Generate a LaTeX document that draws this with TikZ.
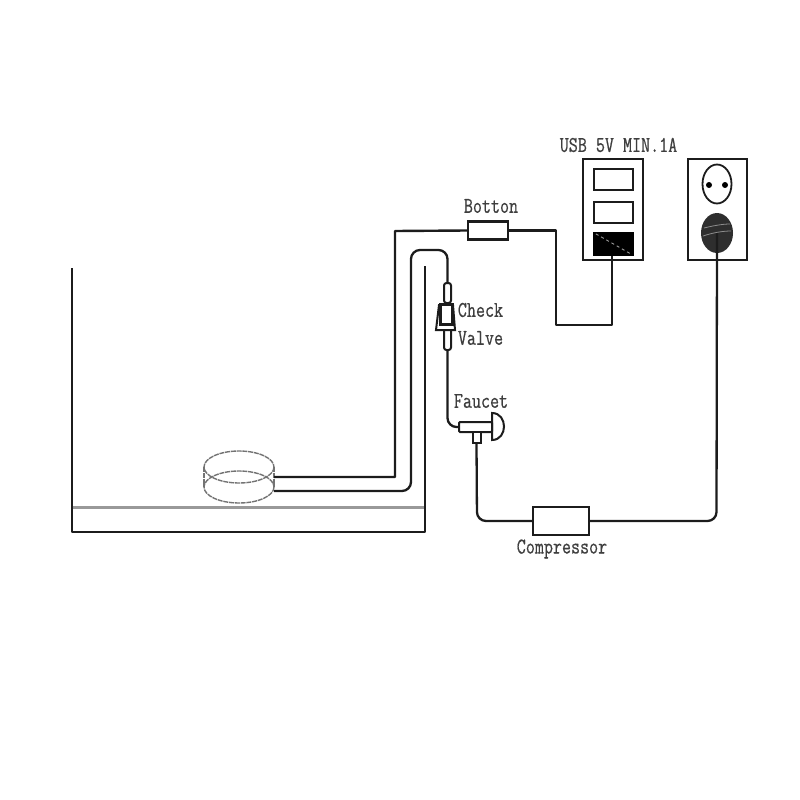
\documentclass[tikz,border=0pt]{standalone}
\usepackage{fontspec}
\setmonofont{Latin Modern Mono}[FakeStretch=0.78,FakeBold=0.6]
\usetikzlibrary{calc,shapes.geometric}
\definecolor{ink}{HTML}{1C1C1C}
\tikzset{
  wire/.style={draw=ink,line width=2.4pt,line join=round},
  tube/.style={draw=ink,line width=2.3pt,rounded corners=9pt},
  boxed/.style={draw=ink,fill=white,line width=2.2pt,rectangle,inner sep=0pt,minimum width=#1},
  lab/.style={font=\ttfamily\fontsize{22.5}{22.5}\selectfont,text=ink!85,inner sep=0pt,anchor=center},
  stone/.style={draw=black!55,line width=1.4pt,dash pattern=on 5pt off 0.8pt},
}
\begin{document}
\begin{tikzpicture}[x=1pt,y=-1pt]
\useasboundingbox (0,0) rectangle (800,800);
% tank
\draw[draw=black!40,line width=2.2pt] (72,507.5) -- (425,507.5);
\draw[wire] (72,268) -- (72,532) -- (425,532) -- (425,266);
% air stone
\draw[stone] (239,467) ellipse [x radius=35,y radius=16];
\draw[stone] (239,487) ellipse [x radius=35,y radius=16];
\draw[stone] (204,467) -- (204,487) (274,467) -- (274,487);
% usb box
\node[boxed=60pt,minimum height=101pt] (usb) at (613,209.5) {};
\node[boxed=39pt,minimum height=21pt] (s1) at (613.5,179.5) {};
\node[boxed=39pt,minimum height=21pt] (s2) at (613.5,212.5) {};
\node[boxed=39pt,minimum height=22pt,fill=black,draw=black] (s3) at (613.5,244) {};
\draw[white!60!black,line width=0.9pt,dash pattern=on 3pt off 3pt] ($(s3.north west)+(3,2)$) -- ($(s3.south east)+(-3,-2)$);
% socket
\node[boxed=59pt,minimum height=101pt] (wall) at (717.5,209.5) {};
\draw[ink,line width=1.8pt] (717,184) ellipse [x radius=14.5,y radius=19.5];
\fill[black] (709,185) circle (3) (725,185) circle (3);
\node[ellipse,fill=black!82,minimum width=32pt,minimum height=40pt,inner sep=0pt] (plug) at (717,233) {};
\draw[black!45,line width=0.8pt] (704,228) .. controls (712,226) and (722,224) .. (730,224)
  (703,236) .. controls (712,233) and (722,231) .. (731,231);
% button and compressor
\node[boxed=40pt,minimum height=18pt] (btn) at (488,230.5) {};
\node[boxed=56pt,minimum height=28pt] (comp) at (561,521) {};
% check valve
\coordinate (vt) at (447.5,283);
\coordinate (vb) at (447.5,350);
\draw[draw=ink,fill=white,line width=2pt,rounded corners=2.5pt] (444,303) -- (444,283) -- (451,283) -- (451,303) -- cycle;
\draw[draw=ink,fill=white,line width=2pt,rounded corners=2.5pt] (444,350) -- (444,328) -- (451,328) -- (451,350) -- cycle;
\draw[draw=ink,fill=white,line width=2pt] (439,305) -- (436,330) -- (455,330) -- (453,305) -- cycle;
\node[draw=ink,fill=white,line width=3pt,minimum width=12pt,minimum height=20pt,inner sep=0pt] (valve) at (446.5,314) {};
% faucet
\draw[draw=ink,fill=white,line width=2pt] (492,413) .. controls (508,413) and (508,440) .. (492,440) -- cycle;
\node[draw=ink,fill=white,line width=2pt,minimum width=33pt,minimum height=10pt,inner sep=0pt,rounded corners=1pt] (fau) at (475.5,427) {};
\node[draw=ink,fill=white,line width=2pt,minimum width=8pt,minimum height=11pt,inner sep=0pt] (stub) at (476.5,437) {};
% connectors
\coordinate (a1) at (395,231);
\coordinate (a2) at (395,477);
\coordinate (s0) at (274,477);
\draw[wire] (btn.west) -- (a1) -- (a2) -- (s0);
\coordinate (b1) at (556,230.5);
\coordinate (b2) at (556,325);
\coordinate (b3) at (612,325);
\draw[wire] (btn.east) -- (b1) -- (b2) -- (b3) -- (s3.south -| b3);
\coordinate (t0) at (274,491);
\coordinate (t1) at (411,491);
\coordinate (t2) at (411,250);
\coordinate (t3) at (447.5,250);
\draw[tube] (t0) -- (t1) -- (t2) -- (t3) -- (vt);
\coordinate (f1) at (447.5,427);
\draw[tube] (vb) -- (f1) -- (fau.west);
\coordinate (c1) at (477,521);
\draw[tube] (stub.south) -- (c1) -- (comp.west);
\coordinate (c2) at (716.5,521);
\draw[tube] (comp.east) -- (c2) -- (plug.center);
% labels
\node[lab] (lusb) at (618.5,145) {USB 5V MIN.1A};
\node[lab] (lbtn) at (491,206) {Botton};
\node[lab] (lchk) at (480.5,310) {Check};
\node[lab] (lval) at (480.5,338) {Valve};
\node[lab] (lfau) at (481,401) {Faucet};
\node[lab] (lcom) at (562,549) {Compressor};
\end{tikzpicture}
\end{document}
